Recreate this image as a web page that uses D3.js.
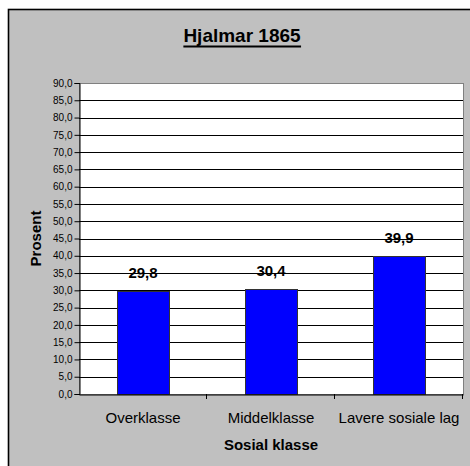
<!DOCTYPE html>
<html>
<head>
<meta charset="utf-8">
<script src="https://cdn.jsdelivr.net/npm/d3@7"></script>
<style>
  body { margin: 0; background: #fff; }
  text { font-family: "Liberation Sans", Arial, sans-serif; }
</style>
</head>
<body>
<div id="container"></div>
<script>
const categories = ["Overklasse", "Middelklasse", "Lavere sosiale lag"];
const values = [29.8, 30.4, 39.9];
const yTicks = d3.range(0, 90.1, 5);

const width = 470, height = 466;
const plot = {left: 79, top: 83, right: 463, bottom: 394};

const svg = d3.select("#container").append("svg")
    .attr("width", width)
    .attr("height", height);

// chart area background
svg.append("rect")
    .attr("x", 8.5).attr("y", 9.5)
    .attr("width", 470).attr("height", 470)
    .attr("fill", "#c0c0c0")
    .attr("stroke", "#000").attr("stroke-width", 1.6);

// title
const title = svg.append("text")
    .attr("x", 242).attr("y", 42)
    .attr("text-anchor", "middle")
    .attr("font-size", 19).attr("font-weight", "bold")
    .text("Hjalmar 1865");
const tb = title.node().getBBox();
svg.append("rect")
    .attr("x", tb.x).attr("y", 45.5)
    .attr("width", tb.width).attr("height", 2)
    .attr("fill", "#000");

const x = d3.scaleBand()
    .domain(categories)
    .range([plot.left, plot.right])
    .paddingInner(0.59).paddingOuter(0.295);

const y = d3.scaleLinear()
    .domain([0, 90])
    .range([plot.bottom, plot.top]);

// plot area
svg.append("rect")
    .attr("x", plot.left + 0.5).attr("y", plot.top + 0.5)
    .attr("width", plot.right - plot.left).attr("height", plot.bottom - plot.top)
    .attr("fill", "#fff")
    .attr("stroke", "#808080").attr("stroke-width", 1);

// gridlines
svg.append("g")
    .selectAll("line")
    .data(yTicks.slice(1, -1))
    .enter().append("line")
    .attr("x1", plot.left).attr("x2", plot.right)
    .attr("y1", d => Math.round(y(d)) + 0.5)
    .attr("y2", d => Math.round(y(d)) + 0.5)
    .attr("stroke", "#000").attr("stroke-width", 1);

// bars
svg.append("g")
    .selectAll("rect")
    .data(values)
    .enter().append("rect")
    .attr("x", (d, i) => Math.round(x(categories[i])) + 0.5)
    .attr("y", d => Math.round(y(d)) + 0.5)
    .attr("width", Math.round(x.bandwidth()))
    .attr("height", d => Math.round(y(0)) - Math.round(y(d)))
    .attr("fill", "#0000ff")
    .attr("stroke", "#333").attr("stroke-width", 1);

// value labels
svg.append("g")
    .selectAll("text")
    .data(values)
    .enter().append("text")
    .attr("x", (d, i) => x(categories[i]) + x.bandwidth() / 2)
    .attr("y", d => y(d) - 13)
    .attr("text-anchor", "middle")
    .attr("font-size", 15).attr("font-weight", "bold")
    .text(d => d3.format(".1f")(d).replace(".", ","));

// y axis
const yAxis = d3.axisLeft(y)
    .tickValues(yTicks)
    .tickSize(5)
    .tickFormat(d => d3.format(".1f")(d).replace(".", ","));
const gy = svg.append("g")
    .attr("transform", `translate(${plot.left + 0.5},0)`)
    .call(yAxis);
gy.select(".domain").attr("stroke", "#000");
gy.selectAll(".tick line").attr("stroke", "#000");
gy.selectAll(".tick text")
    .attr("font-size", 10).attr("fill", "#000")
    .attr("x", -7)
    .style("font-family", "'Liberation Sans', Arial, sans-serif");

// x axis
const xAxis = d3.axisBottom(x).tickSize(0).tickPadding(0);
const gx = svg.append("g")
    .attr("transform", `translate(0,${plot.bottom + 0.5})`)
    .call(xAxis);
gx.select(".domain").attr("stroke", "#000");
gx.selectAll(".tick text")
    .attr("font-size", 15).attr("fill", "#000")
    .attr("y", 28).attr("dy", 0)
    .style("font-family", "'Liberation Sans', Arial, sans-serif");

// category boundary ticks
svg.append("g")
    .selectAll("line")
    .data(categories)
    .enter().append("line")
    .attr("x1", d => Math.round(x(d) + x.bandwidth() + x.step() * x.paddingInner() / 2) - 0.5)
    .attr("x2", d => Math.round(x(d) + x.bandwidth() + x.step() * x.paddingInner() / 2) - 0.5)
    .attr("y1", plot.bottom).attr("y2", plot.bottom + 5)
    .attr("stroke", "#000");

// axis titles
svg.append("text")
    .attr("x", 271).attr("y", 450)
    .attr("text-anchor", "middle")
    .attr("font-size", 15).attr("font-weight", "bold")
    .text("Sosial klasse");

svg.append("text")
    .attr("transform", `translate(40.5,${(plot.top + plot.bottom) / 2}) rotate(-90)`)
    .attr("text-anchor", "middle")
    .attr("font-size", 15).attr("font-weight", "bold")
    .text("Prosent");
</script>
</body>
</html>
